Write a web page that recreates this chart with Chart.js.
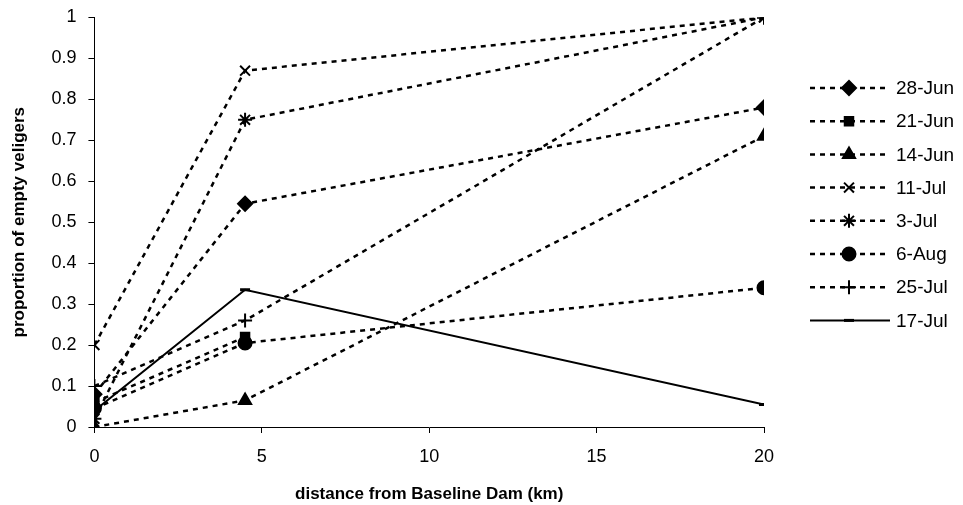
<!DOCTYPE html>
<html>
<head>
<meta charset="utf-8">
<script src="https://cdn.jsdelivr.net/npm/chart.js@4.4.1/dist/chart.umd.min.js"></script>
<style>
body { margin: 0; background: #fff; }
</style>
</head>
<body>
<canvas id="myChart" width="963" height="505"></canvas>
<script>
//data
const distances = [0, 4.5, 20];
const seriesNames = ["28-Jun", "21-Jun", "14-Jun", "11-Jul", "3-Jul", "6-Aug", "25-Jul", "17-Jul"];
const jun28 = [0.08, 0.545, 0.78];
const jun21 = [0.06, 0.22, null];
const jun14 = [0.0, 0.065, 0.71];
const jul11 = [0.2, 0.87, 1.0];
const jul3 = [0.02, 0.75, 1.0];
const aug6 = [0.045, 0.205, 0.34];
const jul25 = [0.1, 0.26, 1.0];
const jul17 = [0.04, 0.335, 0.055];
const yTicks = [0, 0.1, 0.2, 0.3, 0.4, 0.5, 0.6, 0.7, 0.8, 0.9, 1];
const xTicks = [0, 5, 10, 15, 20];

const FONT = '"Liberation Sans", Arial, sans-serif';

const toPoints = (vals) => distances.map((d, i) => ({ x: d, y: vals[i] }));

const makeSet = (label, vals, style, radius, dashed) => ({
    label: label,
    data: toPoints(vals),
    borderColor: '#000',
    backgroundColor: '#000',
    borderWidth: dashed ? 2.5 : 2,
    borderDash: dashed ? [5, 5] : [],
    pointStyle: style,
    pointRadius: radius,
    pointBorderWidth: style === 'line' ? 3 : 2,
    pointBackgroundColor: '#000',
    pointBorderColor: '#000',
    spanGaps: false,
    tension: 0,
    fill: false
});

//legend drawn as line + marker + text like the original
const legendLines = {
    id: 'legendLines',
    afterDraw(chart) {
        const ctx = chart.ctx;
        chart.data.datasets.forEach((ds, i) => {
            const y = 88 + i * 33.2;
            ctx.save();
            ctx.strokeStyle = '#000';
            ctx.fillStyle = '#000';
            ctx.lineWidth = ds.borderWidth;
            ctx.setLineDash(ds.borderDash);
            ctx.beginPath();
            ctx.moveTo(810, y);
            ctx.lineTo(890, y);
            ctx.stroke();
            ctx.setLineDash([]);
            ctx.lineWidth = ds.pointBorderWidth;
            Chart.helpers.drawPoint(ctx, {
                pointStyle: ds.pointStyle,
                radius: ds.pointRadius,
                borderWidth: ds.pointBorderWidth,
                rotation: 0
            }, 849, y);
            ctx.font = '19px ' + FONT;
            ctx.textBaseline = 'middle';
            ctx.textAlign = 'left';
            ctx.fillText(ds.label, 896, y + 1);
            ctx.restore();
        });
    }
};

const ctx = document.getElementById('myChart');
const myChart = new Chart(ctx, {
    type: 'line',
    data: {
        datasets: [
            makeSet(seriesNames[0], jun28, 'rectRot', 7, true),
            makeSet(seriesNames[1], jun21, 'rect', 6, true),
            makeSet(seriesNames[2], jun14, 'triangle', 7, true),
            makeSet(seriesNames[3], jul11, 'crossRot', 7, true),
            makeSet(seriesNames[4], jul3, 'star', 7, true),
            makeSet(seriesNames[5], aug6, 'circle', 6.5, true),
            makeSet(seriesNames[6], jul25, 'cross', 7, true),
            makeSet(seriesNames[7], jul17, 'line', 5, false)
        ]
    },
    options: {
        responsive: false,
        animation: false,
        devicePixelRatio: 1,
        layout: { padding: { left: 9, right: 199, top: 6, bottom: 0 } },
        plugins: {
            legend: { display: false },
            tooltip: { enabled: false }
        },
        scales: {
            x: {
                type: 'linear',
                min: 0,
                max: 20,
                afterBuildTicks: (axis) => { axis.ticks = xTicks.map(v => ({ value: v })); },
                ticks: { color: '#000', font: { family: FONT, size: 18 }, padding: 13 },
                grid: { drawOnChartArea: false, color: '#000', tickLength: 6 },
                border: { color: '#000', width: 1 },
                title: {
                    display: true,
                    text: 'distance from Baseline Dam (km)',
                    color: '#000',
                    font: { family: FONT, size: 17, weight: 'bold' },
                    padding: { top: 4, bottom: 0 }
                }
            },
            y: {
                min: 0,
                max: 1,
                afterBuildTicks: (axis) => { axis.ticks = yTicks.map(v => ({ value: v })); },
                ticks: {
                    color: '#000',
                    font: { family: FONT, size: 18, lineHeight: 0.6 },
                    padding: 12,
                    callback: (v) => String(parseFloat(v.toFixed(1)))
                },
                grid: { drawOnChartArea: false, color: '#000', tickLength: 6 },
                border: { color: '#000', width: 1 },
                title: {
                    display: true,
                    text: 'proportion of empty veligers',
                    color: '#000',
                    font: { family: FONT, size: 17, weight: 'bold' },
                    padding: { top: 0, bottom: 10 }
                }
            }
        }
    },
    plugins: [legendLines]
});
</script>
</body>
</html>
